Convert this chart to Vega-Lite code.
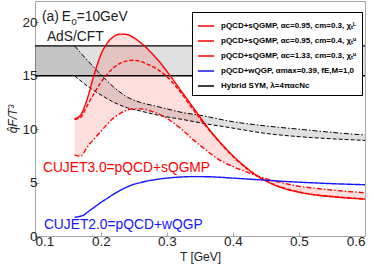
{
  "$schema": "https://vega.github.io/schema/vega-lite/v6.json",
  "width": 330,
  "height": 235,
  "autosize": {"type": "none"},
  "padding": {"left": 35, "top": 1, "right": 9, "bottom": 35},
  "config": {
    "font": "Liberation Sans",
    "view": {"stroke": "#a8a8a8"},
    "axis": {"grid": false, "domain": false, "tickColor": "#a8a8a8", "tickSize": -4, "labelFontSize": 13.5, "labelColor": "#222222", "titleFontSize": 12, "titleFontWeight": "normal", "titleColor": "#222222"},
    "axisX": {"labelPadding": 2, "titlePadding": 4},
    "axisY": {"labelPadding": 2, "titlePadding": 2, "titleFontStyle": "italic"}
  },
  "datasets": {
    "curves": [
      {"T": 0.16, "a": 11.0, "b": 10.9, "c": 7.6, "d": 1.76},
      {"T": 0.165, "a": 11.1, "b": 11.0, "c": 7.5, "d": 1.8},
      {"T": 0.17, "a": 11.4, "b": 11.15, "c": 7.5, "d": 1.87},
      {"T": 0.175, "a": 12.1, "b": 11.7, "c": 7.9, "d": 2.0},
      {"T": 0.18, "a": 13.0, "b": 12.3, "c": 8.4, "d": 2.25},
      {"T": 0.19, "a": 15.2, "b": 13.4, "c": 9.1, "d": 2.7},
      {"T": 0.2, "a": 17.0, "b": 14.4, "c": 9.8, "d": 3.15},
      {"T": 0.21, "a": 18.1, "b": 15.2, "c": 10.5, "d": 3.55},
      {"T": 0.22, "a": 18.7, "b": 15.8, "c": 11.1, "d": 3.95},
      {"T": 0.23, "a": 18.9, "b": 16.2, "c": 11.5, "d": 4.3},
      {"T": 0.24, "a": 18.85, "b": 16.4, "c": 11.8, "d": 4.6},
      {"T": 0.25, "a": 18.55, "b": 16.45, "c": 11.9, "d": 4.85},
      {"T": 0.26, "a": 18.1, "b": 16.35, "c": 11.9, "d": 5.0},
      {"T": 0.27, "a": 17.55, "b": 16.1, "c": 11.8, "d": 5.15},
      {"T": 0.28, "a": 16.9, "b": 15.8, "c": 11.6, "d": 5.25},
      {"T": 0.29, "a": 16.2, "b": 15.4, "c": 11.35, "d": 5.35},
      {"T": 0.3, "a": 15.4, "b": 14.9, "c": 11.0, "d": 5.42},
      {"T": 0.32, "a": 13.7, "b": 13.5, "c": 10.1, "d": 5.52},
      {"T": 0.34, "a": 12.0, "b": 11.8, "c": 9.0, "d": 5.56},
      {"T": 0.36, "a": 10.3, "b": 10.2, "c": 8.0, "d": 5.55},
      {"T": 0.38, "a": 8.8, "b": 8.75, "c": 7.1, "d": 5.5},
      {"T": 0.4, "a": 7.5, "b": 7.45, "c": 6.5, "d": 5.42},
      {"T": 0.42, "a": 6.4, "b": 6.35, "c": 6.0, "d": 5.34},
      {"T": 0.44, "a": 5.5, "b": 5.5, "c": 5.55, "d": 5.26},
      {"T": 0.46, "a": 4.85, "b": 4.88, "c": 5.2, "d": 5.18},
      {"T": 0.48, "a": 4.4, "b": 4.43, "c": 4.9, "d": 5.1},
      {"T": 0.5, "a": 4.1, "b": 4.13, "c": 4.65, "d": 5.04},
      {"T": 0.52, "a": 3.88, "b": 3.9, "c": 4.5, "d": 4.98},
      {"T": 0.55, "a": 3.68, "b": 3.7, "c": 4.3, "d": 4.9},
      {"T": 0.6, "a": 3.45, "b": 3.47, "c": 4.05, "d": 4.8}
    ],
    "hybrid": [
      {"T": 0.1, "up": 17.8, "lo": 15.0},
      {"T": 0.16, "up": 17.8, "lo": 15.0},
      {"T": 0.18, "up": 16.4, "lo": 14.0},
      {"T": 0.2, "up": 15.1, "lo": 13.2},
      {"T": 0.22, "up": 13.9, "lo": 12.5},
      {"T": 0.24, "up": 13.0, "lo": 12.0},
      {"T": 0.26, "up": 12.5, "lo": 11.7},
      {"T": 0.28, "up": 12.2, "lo": 11.4},
      {"T": 0.3, "up": 11.9, "lo": 11.15},
      {"T": 0.32, "up": 11.6, "lo": 10.95},
      {"T": 0.35, "up": 11.3, "lo": 10.6},
      {"T": 0.4, "up": 10.7, "lo": 10.1},
      {"T": 0.45, "up": 10.3, "lo": 9.6},
      {"T": 0.5, "up": 10.0, "lo": 9.3},
      {"T": 0.55, "up": 9.7, "lo": 9.1},
      {"T": 0.6, "up": 9.45, "lo": 8.95}
    ],
    "labels": [
      {"T": 0.1106, "v": 20.48, "txt": "(a)", "col": "k", "sz": "n", "st": "normal"},
      {"T": 0.1405, "v": 20.48, "txt": "E", "col": "k", "sz": "n", "st": "italic"},
      {"T": 0.1552, "v": 20.0, "txt": "0", "col": "k", "sz": "s", "st": "normal"},
      {"T": 0.1632, "v": 20.48, "txt": "=10GeV", "col": "k", "sz": "n", "st": "normal"},
      {"T": 0.118, "v": 18.6, "txt": "AdS/CFT", "col": "k", "sz": "n", "st": "normal"},
      {"T": 0.112, "v": 6.4, "txt": "CUJET3.0=pQCD+sQGMP", "col": "r", "sz": "n", "st": "normal"},
      {"T": 0.1135, "v": 1.0, "txt": "CUJET2.0=pQCD+wQGP", "col": "b", "sz": "n", "st": "normal"}
    ]
  },
  "layer": [
    {
      "data": {"values": [{"lo": 15.0, "hi": 17.8}]},
      "mark": {"type": "rect", "color": "black", "opacity": 0.12},
      "encoding": {
        "y": {"field": "lo", "type": "quantitative", "scale": {"domain": [0, 22], "nice": false}, "title": "q̂F/T³", "axis": {"values": [0, 5, 10, 15, 20]}},
        "y2": {"field": "hi"}
      }
    },
    {
      "data": {"name": "hybrid"},
      "mark": {"type": "area", "color": "black", "opacity": 0.12},
      "encoding": {
        "x": {"field": "T", "type": "quantitative", "scale": {"domain": [0.1, 0.6], "nice": false}, "title": "T [GeV]", "axis": {"values": [0.1, 0.2, 0.3, 0.4, 0.5, 0.6], "format": ".1f"}},
        "y": {"field": "up", "type": "quantitative"},
        "y2": {"field": "lo"}
      }
    },
    {
      "data": {"name": "curves"},
      "transform": [
        {"fold": ["a", "b", "c"], "as": ["k", "val"]},
        {"aggregate": [{"op": "min", "field": "val", "as": "mn"}, {"op": "max", "field": "val", "as": "mx"}], "groupby": ["T"]}
      ],
      "mark": {"type": "area", "color": "#ff0000", "opacity": 0.13, "interpolate": "monotone"},
      "encoding": {
        "x": {"field": "T", "type": "quantitative"},
        "y": {"field": "mn", "type": "quantitative"},
        "y2": {"field": "mx"}
      }
    },
    {
      "data": {"values": [{"h": 15.0}, {"h": 17.8}]},
      "mark": {"type": "rule", "color": "black", "strokeWidth": 1.3},
      "encoding": {"y": {"field": "h", "type": "quantitative"}}
    },
    {
      "data": {"name": "hybrid"},
      "transform": [{"filter": "datum.T >= 0.16"}],
      "mark": {"type": "line", "color": "black", "strokeWidth": 1, "strokeDash": [5, 2, 1.5, 2], "interpolate": "monotone"},
      "encoding": {
        "x": {"field": "T", "type": "quantitative"},
        "y": {"field": "up", "type": "quantitative"}
      }
    },
    {
      "data": {"name": "hybrid"},
      "transform": [{"filter": "datum.T >= 0.16"}],
      "mark": {"type": "line", "color": "black", "strokeWidth": 1, "strokeDash": [4, 2], "interpolate": "monotone"},
      "encoding": {
        "x": {"field": "T", "type": "quantitative"},
        "y": {"field": "lo", "type": "quantitative"}
      }
    },
    {
      "data": {"name": "curves"},
      "transform": [{"fold": ["a", "b", "c", "d"], "as": ["s", "v"]}],
      "mark": {"type": "line", "strokeWidth": 1.4, "interpolate": "monotone"},
      "encoding": {
        "x": {"field": "T", "type": "quantitative"},
        "y": {"field": "v", "type": "quantitative"},
        "color": {
          "field": "s", "type": "nominal",
          "scale": {"domain": ["a", "b", "c", "d", "e"], "range": ["#ff0000", "#ff0000", "#ff0000", "#1515ff", "#000000"]},
          "legend": {"orient": "none", "legendX": 157, "legendY": 11, "title": null, "symbolType": "stroke", "symbolSize": 260, "symbolStrokeWidth": 1.5, "labelFontSize": 8, "labelFontWeight": "bold", "labelLimit": 240, "strokeColor": "black", "fillColor": "white", "padding": 5, "rowPadding": 2, "labelOffset": 6,
            "labelExpr": "{'a':'pQCD+sQGMP, αc=0.95, cm=0.3, χₜᴸ','b':'pQCD+sQGMP, αc=0.95, cm=0.4, χₜᵘ','c':'pQCD+sQGMP, αc=1.33, cm=0.3, χₜᵘ','d':'pQCD+wQGP, αmax=0.39, fE,M=1,0','e':'Hybrid SYM, λ=4παcNc'}[datum.value]"}
        },
        "strokeDash": {
          "field": "s", "type": "nominal",
          "scale": {"domain": ["a", "b", "c", "d", "e"], "range": [[1, 0], [4, 2], [5, 2, 1.5, 2], [1, 0], [1, 0]]},
          "legend": {"orient": "none", "legendX": 157, "legendY": 11, "title": null, "symbolType": "stroke", "symbolSize": 260, "symbolStrokeWidth": 1.5, "labelFontSize": 8, "labelFontWeight": "bold", "labelLimit": 240, "strokeColor": "black", "fillColor": "white", "padding": 5, "rowPadding": 2, "labelOffset": 6,
            "labelExpr": "{'a':'pQCD+sQGMP, αc=0.95, cm=0.3, χₜᴸ','b':'pQCD+sQGMP, αc=0.95, cm=0.4, χₜᵘ','c':'pQCD+sQGMP, αc=1.33, cm=0.3, χₜᵘ','d':'pQCD+wQGP, αmax=0.39, fE,M=1,0','e':'Hybrid SYM, λ=4παcNc'}[datum.value]"}
        }
      }
    },
    {
      "data": {"name": "labels"},
      "mark": {"type": "text", "align": "left", "baseline": "middle"},
      "encoding": {
        "x": {"field": "T", "type": "quantitative"},
        "y": {"field": "v", "type": "quantitative"},
        "text": {"field": "txt"},
        "fontStyle": {"field": "st"},
        "size": {"field": "sz", "type": "nominal", "scale": {"domain": ["n", "s"], "range": [13.8, 9.5]}, "legend": null},
        "color": {"field": "col", "type": "nominal", "scale": {"domain": ["k", "r", "b"], "range": ["#222222", "#ff0000", "#1515ff"]}, "legend": null}
      }
    }
  ],
  "resolve": {"scale": {"color": "independent"}}
}
